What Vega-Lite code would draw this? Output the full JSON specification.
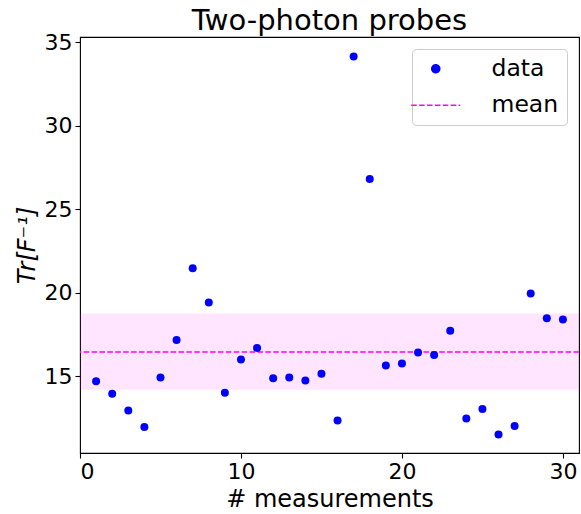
{
  "$schema": "https://vega.github.io/schema/vega-lite/v6.json",
  "width": 499,
  "height": 416,
  "autosize": "none",
  "padding": {"left": 80, "top": 37, "right": 2, "bottom": 61},
  "background": "white",
  "config": {
    "font": "DejaVu Sans",
    "view": {"stroke": "black", "strokeWidth": 1.1},
    "axis": {
      "grid": false,
      "domain": false,
      "tickColor": "black",
      "tickSize": 5,
      "tickWidth": 1.1,
      "labelFont": "DejaVu Sans",
      "labelFontSize": 22,
      "labelColor": "black",
      "titleFont": "DejaVu Sans",
      "titleFontSize": 24,
      "titleFontWeight": "normal",
      "titleColor": "black"
    }
  },
  "title": {
    "text": "Two-photon probes",
    "font": "DejaVu Sans",
    "fontSize": 29,
    "fontWeight": "normal",
    "color": "black",
    "anchor": "middle",
    "offset": -5
  },
  "datasets": {
    "points": [
      {"n": 1, "v": 14.70, "series": "data"},
      {"n": 2, "v": 13.94, "series": "data"},
      {"n": 3, "v": 12.95, "series": "data"},
      {"n": 4, "v": 11.95, "series": "data"},
      {"n": 5, "v": 14.92, "series": "data"},
      {"n": 6, "v": 17.17, "series": "data"},
      {"n": 7, "v": 21.46, "series": "data"},
      {"n": 8, "v": 19.41, "series": "data"},
      {"n": 9, "v": 14.00, "series": "data"},
      {"n": 10, "v": 16.00, "series": "data"},
      {"n": 11, "v": 16.69, "series": "data"},
      {"n": 12, "v": 14.88, "series": "data"},
      {"n": 13, "v": 14.92, "series": "data"},
      {"n": 14, "v": 14.74, "series": "data"},
      {"n": 15, "v": 15.14, "series": "data"},
      {"n": 16, "v": 12.35, "series": "data"},
      {"n": 17, "v": 34.14, "series": "data"},
      {"n": 18, "v": 26.80, "series": "data"},
      {"n": 19, "v": 15.64, "series": "data"},
      {"n": 20, "v": 15.76, "series": "data"},
      {"n": 21, "v": 16.42, "series": "data"},
      {"n": 22, "v": 16.26, "series": "data"},
      {"n": 23, "v": 17.71, "series": "data"},
      {"n": 24, "v": 12.47, "series": "data"},
      {"n": 25, "v": 13.04, "series": "data"},
      {"n": 26, "v": 11.51, "series": "data"},
      {"n": 27, "v": 12.01, "series": "data"},
      {"n": 28, "v": 19.94, "series": "data"},
      {"n": 29, "v": 18.47, "series": "data"},
      {"n": 30, "v": 18.39, "series": "data"}
    ],
    "stats": [
      {"mean": 16.45, "lo": 14.18, "hi": 18.75}
    ]
  },
  "layer": [
    {
      "data": {"name": "stats"},
      "mark": {"type": "rect", "fill": "#ff00ff", "fillOpacity": 0.1, "stroke": null},
      "encoding": {
        "y": {"field": "lo", "type": "quantitative", "scale": {"domain": [10.4, 35.3], "nice": false, "zero": false}},
        "y2": {"field": "hi"}
      }
    },
    {
      "data": {"name": "stats"},
      "mark": {"type": "rule", "strokeDash": [5.5, 2.4], "strokeWidth": 1.5, "color": "#ff00ff"},
      "encoding": {
        "y": {"field": "mean", "type": "quantitative"}
      }
    },
    {
      "data": {"name": "points"},
      "mark": {"type": "point", "filled": true, "shape": "circle", "size": 64, "opacity": 1},
      "encoding": {
        "x": {
          "field": "n", "type": "quantitative",
          "scale": {"domain": [0, 31], "nice": false, "zero": false},
          "axis": {"values": [0, 10, 20, 30], "title": "# measurements", "labelPadding": 3, "titlePadding": 5, "format": "d"}
        },
        "y": {
          "field": "v", "type": "quantitative",
          "axis": {"values": [15, 20, 25, 30, 35], "title": "Tr[F⁻¹]", "titleFontStyle": "italic", "labelPadding": 3, "titlePadding": 5, "format": "d"}
        },
        "color": {
          "field": "series", "type": "nominal",
          "scale": {"domain": ["data", "mean"], "range": ["#0000ff", "#ff00ff"]},
          "legend": {
            "title": null,
            "orient": "top-right",
            "offset": 12,
            "padding": 8,
            "strokeColor": "#cccccc",
            "fillColor": "white",
            "cornerRadius": 4,
            "labelFont": "DejaVu Sans",
            "labelFontSize": 23.5,
            "labelColor": "black",
            "labelOffset": 44,
            "symbolOffset": 4,
            "rowPadding": 11.5,
            "symbolType": {"expr": "datum.value === 'mean' ? 'stroke' : 'circle'"},
            "symbolSize": {"expr": "datum.value === 'mean' ? 2401 : 64"},
            "symbolStrokeColor": {"expr": "datum.value === 'mean' ? '#ff00ff' : '#0000ff'"},
            "symbolDash": {"expr": "datum.value === 'mean' ? [5.5, 2.4] : [1, 0]"},
            "symbolStrokeWidth": 1.5,
            "symbolOpacity": 1
          }
        }
      }
    }
  ]
}
